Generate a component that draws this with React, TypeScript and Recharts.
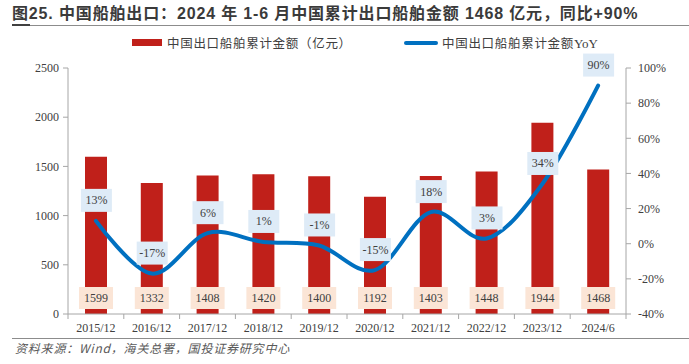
import React from 'react';
import { ComposedChart, Bar, Line, XAxis, YAxis, LabelList } from 'recharts';

const categories = ['2015/12', '2016/12', '2017/12', '2018/12', '2019/12', '2020/12', '2021/12', '2022/12', '2023/12', '2024/6'];
const exportValues = [1599, 1332, 1408, 1420, 1400, 1192, 1403, 1448, 1944, 1468];
const yoyValues = [13, -17, 6, 1, -1, -15, 18, 3, 34, 90];
const leftTicks = [0, 500, 1000, 1500, 2000, 2500];
const rightTicks = [-40, -20, 0, 20, 40, 60, 80, 100];

const data = categories.map((c, i) => ({ name: c, value: exportValues[i], yoy: yoyValues[i] }));

const W = 689;
const H = 364;
const PLOT_LEFT = 68;
const PLOT_RIGHT = 626;
const AXIS_COLOR = '#A6A6A6';
const TEXT_COLOR = '#404040';
const SERIF = '"Liberation Serif", "DejaVu Serif", serif';
const CJK = '"Noto Sans CJK SC", "Noto Sans", sans-serif';

// Catmull-Rom style cardinal curve (Excel-like smoothing)
function cardinal(tension: number) {
  return (context: any) => {
    const k = (1 - tension) / 6;
    let x0 = NaN, y0 = NaN, x1 = NaN, y1 = NaN, x2 = NaN, y2 = NaN;
    let pt = 0;
    let line: number = NaN;
    const seg = (x: number, y: number) => {
      context.bezierCurveTo(
        x1 + k * (x2 - x0),
        y1 + k * (y2 - y0),
        x2 + k * (x1 - x),
        y2 + k * (y1 - y),
        x2,
        y2
      );
    };
    return {
      areaStart() { line = 0; },
      areaEnd() { line = NaN; },
      lineStart() { x0 = x1 = x2 = y0 = y1 = y2 = NaN; pt = 0; },
      lineEnd() {
        if (pt === 2) context.lineTo(x2, y2);
        else if (pt === 3) seg(x1, y1);
        if (line || (line !== 0 && pt === 1)) context.closePath();
        line = 1 - line;
      },
      point(x: number, y: number) {
        x = +x; y = +y;
        if (pt === 0) {
          pt = 1;
          if (line) context.lineTo(x, y); else context.moveTo(x, y);
        } else if (pt === 1) {
          pt = 2; x1 = x; y1 = y;
        } else {
          pt = 3;
          seg(x, y);
        }
        x0 = x1; x1 = x2; x2 = x;
        y0 = y1; y1 = y2; y2 = y;
      },
    };
  };
}

const half = (PLOT_RIGHT - PLOT_LEFT) / categories.length / 2;

const XTick = (props: any) => {
  const { x, y, payload, index } = props;
  return (
    <g>
      <line x1={x - half} x2={x - half} y1={y} y2={y + 5} stroke={AXIS_COLOR} />
      {index === categories.length - 1 && (
        <line x1={x + half} x2={x + half} y1={y} y2={y + 5} stroke={AXIS_COLOR} />
      )}
      <text x={x} y={y + 14} textAnchor="middle" dominantBaseline="central" fontFamily={SERIF} fontSize={12} fill={TEXT_COLOR}>
        {payload.value}
      </text>
    </g>
  );
};

const BarLabel = (props: any) => {
  const { x, y, width, height, value } = props;
  const cx = x + width / 2;
  const bottom = y + height;
  return (
    <g>
      <rect x={cx - 17} y={bottom - 27} width={34} height={22} fill="#FBE5D6" />
      <text x={cx} y={bottom - 16} textAnchor="middle" dominantBaseline="central" fontFamily={SERIF} fontSize={12} fill={TEXT_COLOR}>
        {value}
      </text>
    </g>
  );
};

const LineLabel = (props: any) => {
  const { x, y, value } = props;
  return (
    <g>
      <rect x={x - 15} y={y - 32} width={31} height={23} fill="#DEEBF7" />
      <text x={x + 0.5} y={y - 20.5} textAnchor="middle" dominantBaseline="central" fontFamily={SERIF} fontSize={12} fill={TEXT_COLOR}>
        {value + '%'}
      </text>
    </g>
  );
};

export default function App() {
  return (
    <div style={{ position: 'absolute', left: 0, top: 0, width: W, height: H, background: '#fff', overflow: 'hidden' }}>
      <div style={{ position: 'absolute', left: 12, top: 4, fontFamily: '"Liberation Sans", ' + CJK, fontWeight: 'bold', fontSize: 16, lineHeight: '20px', letterSpacing: 0.85, color: '#3A3A3A', whiteSpace: 'nowrap' }}>
        图25. 中国船舶出口：2024 年 1-6 月中国累计出口船舶金额 1468 亿元，同比+90%
      </div>
      <div style={{ position: 'absolute', left: 12, top: 25, width: W - 12, height: 1, background: '#8C8C8C' }} />
      <div style={{ position: 'absolute', left: 12, top: 24, width: 18, height: 2, background: '#404040' }} />

      <div style={{ position: 'absolute', left: 132, top: 39, width: 30, height: 7, background: '#C0201A' }} />
      <div style={{ position: 'absolute', left: 167, top: 34, fontFamily: CJK, fontSize: 12.5, lineHeight: '17px', letterSpacing: 0.7, color: TEXT_COLOR, whiteSpace: 'nowrap' }}>
        中国出口船舶累计金额（亿元）
      </div>
      <div style={{ position: 'absolute', left: 404, top: 41, width: 34, height: 4, borderRadius: 2, background: '#0070C0' }} />
      <div style={{ position: 'absolute', left: 442, top: 34, fontFamily: CJK, fontSize: 12.5, lineHeight: '17px', letterSpacing: 0.7, color: TEXT_COLOR, whiteSpace: 'nowrap' }}>
        中国出口船舶累计金额<span style={{ fontFamily: SERIF, fontSize: 13, letterSpacing: 0 }}>YoY</span>
      </div>

      <div style={{ position: 'absolute', left: 0, top: 0 }}>
        <ComposedChart width={W} height={H} data={data} margin={{ top: 68, right: 13, bottom: 26, left: 28 }}>
          <XAxis
            dataKey="name"
            xAxisId={0}
            height={24}
            tickLine={false}
            tickSize={0}
            tickMargin={0}
            axisLine={{ stroke: AXIS_COLOR }}
            tick={<XTick />}
            interval={0}
          />
          <YAxis
            yAxisId="left"
            width={40}
            domain={[0, 2500]}
            ticks={leftTicks}
            tickSize={5}
            tickMargin={4}
            axisLine={{ stroke: AXIS_COLOR }}
            tickLine={{ stroke: AXIS_COLOR }}
            tick={{ fontFamily: SERIF, fontSize: 12, fill: TEXT_COLOR }}
            interval={0}
          />
          <YAxis
            yAxisId="right"
            orientation="right"
            width={50}
            domain={[-40, 100]}
            ticks={rightTicks}
            tickSize={5}
            tickMargin={7}
            axisLine={{ stroke: AXIS_COLOR }}
            tickLine={{ stroke: AXIS_COLOR }}
            tick={{ fontFamily: SERIF, fontSize: 12, fill: TEXT_COLOR }}
            tickFormatter={(v: number) => v + '%'}
            interval={0}
          />
          <Bar dataKey="value" yAxisId="left" fill="#C0201A" barSize={22} isAnimationActive={false}>
            <LabelList dataKey="value" content={<BarLabel />} />
          </Bar>
          <Line
            dataKey="yoy"
            yAxisId="right"
            type={cardinal(0) as any}
            stroke="#0070C0"
            strokeWidth={4}
            strokeLinecap="round"
            dot={false}
            activeDot={false}
            isAnimationActive={false}
          >
            <LabelList dataKey="yoy" content={<LineLabel />} />
          </Line>
        </ComposedChart>
      </div>

      <div style={{ position: 'absolute', left: 12, top: 338, width: W - 12, height: 1, background: '#8C8C8C' }} />
      <div style={{ position: 'absolute', left: 15, top: 340, fontFamily: CJK, fontStyle: 'italic', fontSize: 12, lineHeight: '16px', letterSpacing: 0.8, color: '#595959', whiteSpace: 'nowrap' }}>
        资料来源：Wind，海关总署，国投证券研究中心
      </div>
    </div>
  );
}
